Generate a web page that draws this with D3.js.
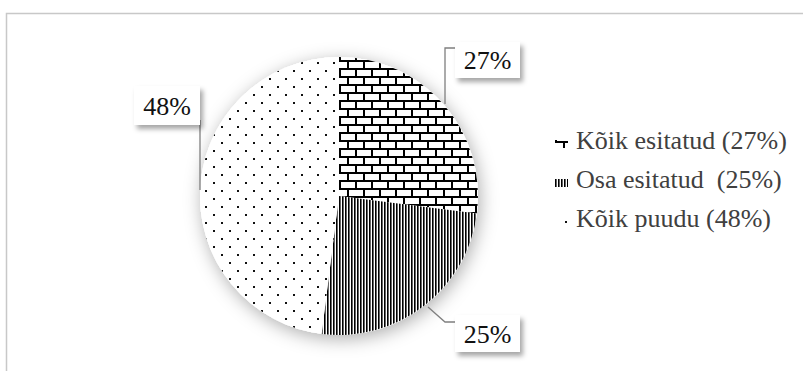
<!DOCTYPE html>
<html>
<head>
<meta charset="utf-8">
<script src="https://cdn.jsdelivr.net/npm/d3@7/dist/d3.min.js"></script>
<style>
  body { margin: 0; background: #fff; }
  svg text { font-family: "Times New Roman", Tinos, "Liberation Serif", "Noto Serif", "DejaVu Serif", FreeSerif, serif; }
</style>
</head>
<body>
<div id="chart"></div>
<script>
var svgWidth = 803;
var svgHeight = 371;

// data
var categories = ["Kõik esitatud", "Osa esitatud ", "Kõik puudu"];
var values = [27, 25, 48];
var sliceLabels = ["27%", "25%", "48%"];
var legendLabels = ["Kõik esitatud (27%)", "Osa esitatud  (25%)", "Kõik puudu (48%)"];
var patterns = ["brick", "vlines", "dots"];

var cx = 339, cy = 196, radius = 139;

var svg = d3.select("#chart")
  .append("svg")
  .attr("width", svgWidth)
  .attr("height", svgHeight);

var defs = svg.append("defs");

// brick pattern
var brick = defs.append("pattern")
  .attr("id", "brick")
  .attr("patternUnits", "userSpaceOnUse")
  .attr("width", 16).attr("height", 16);
brick.append("rect").attr("width", 16).attr("height", 16).attr("fill", "#fff");
brick.append("path")
  .attr("d", "M0,1H16M0,9H16M1,0V9M9,9V16")
  .attr("stroke", "#000").attr("stroke-width", 2).attr("fill", "none");

// vertical lines
var vl = defs.append("pattern")
  .attr("id", "vlines")
  .attr("patternUnits", "userSpaceOnUse")
  .attr("width", 3).attr("height", 3);
vl.append("rect").attr("width", 3).attr("height", 3).attr("fill", "#fff");
vl.append("rect").attr("width", 1.6).attr("height", 3).attr("fill", "#000");

// dots
var dots = defs.append("pattern")
  .attr("id", "dots")
  .attr("patternUnits", "userSpaceOnUse")
  .attr("x", 2).attr("y", 2)
  .attr("width", 16).attr("height", 16);
dots.append("rect").attr("width", 16).attr("height", 16).attr("fill", "#fff");
dots.append("rect").attr("x", 0).attr("y", 0).attr("width", 2).attr("height", 2).attr("fill", "#111");
dots.append("rect").attr("x", 8).attr("y", 8).attr("width", 2).attr("height", 2).attr("fill", "#111");

var shadow = defs.append("filter").attr("id", "shadow")
  .attr("x", "-30%").attr("y", "-30%").attr("width", "160%").attr("height", "160%");
shadow.append("feDropShadow")
  .attr("dx", 2).attr("dy", 4).attr("stdDeviation", 9)
  .attr("flood-color", "#000").attr("flood-opacity", 0.32);

var boxShadow = defs.append("filter").attr("id", "boxShadow")
  .attr("x", "-30%").attr("y", "-30%").attr("width", "160%").attr("height", "160%");
boxShadow.append("feDropShadow")
  .attr("dx", 3).attr("dy", 4).attr("stdDeviation", 2.5)
  .attr("flood-color", "#000").attr("flood-opacity", 0.35);

// chart frame
svg.append("path")
  .attr("d", "M6.5," + svgHeight + "V13.5H" + svgWidth)
  .attr("fill", "none")
  .attr("stroke", "#c8c8c8")
  .attr("stroke-width", 1.5);

var pie = d3.pie().sort(null).value(d => d);
var arcs = pie(values);
var arc = d3.arc().innerRadius(0).outerRadius(radius);

var pieGroup = svg.append("g")
  .attr("transform", `translate(${cx}, ${cy})`);

pieGroup.append("circle")
  .attr("r", radius)
  .attr("fill", "#fff")
  .attr("filter", "url(#shadow)");

pieGroup.selectAll("path.slice")
  .data(arcs)
  .enter()
  .append("path")
  .attr("class", "slice")
  .attr("d", arc)
  .attr("fill", (d, i) => `url(#${patterns[i]})`);

// labels with leader lines
var labelBoxes = [
  { x: 455, y: 42, w: 65, h: 36 },
  { x: 455, y: 315, w: 65, h: 37 },
  { x: 134, y: 86, w: 66, h: 39 }
];
var leaders = [
  "M455,48H445V104",
  "M428,307L445,322H455",
  "M200,120V190"
];

svg.selectAll("path.leader")
  .data(leaders)
  .enter()
  .append("path")
  .attr("class", "leader")
  .attr("d", d => d)
  .attr("fill", "none")
  .attr("stroke", "#7f7f7f")
  .attr("stroke-width", 1.3);

var lbl = svg.selectAll("g.lbl")
  .data(labelBoxes)
  .enter()
  .append("g")
  .attr("class", "lbl");

lbl.append("rect")
  .attr("x", d => d.x).attr("y", d => d.y)
  .attr("width", d => d.w).attr("height", d => d.h)
  .attr("fill", "#fff")
  .attr("filter", "url(#boxShadow)");

lbl.append("text")
  .attr("x", d => d.x + d.w / 2)
  .attr("y", d => d.y + d.h / 2 + 9)
  .attr("text-anchor", "middle")
  .attr("font-size", 26)
  .attr("fill", "#111")
  .text((d, i) => sliceLabels[i]);

// legend
var legend = svg.selectAll("g.legend")
  .data(categories)
  .enter()
  .append("g")
  .attr("class", "legend")
  .attr("transform", (d, i) => `translate(555, ${149 + i * 39})`);

legend.append("rect")
  .attr("x", 0).attr("y", -9)
  .attr("width", 13).attr("height", 8)
  .attr("fill", (d, i) => `url(#${patterns[i]})`);

legend.append("text")
  .attr("x", 21)
  .attr("y", 0)
  .attr("font-size", 26)
  .attr("fill", "#404040")
  .style("white-space", "pre")
  .text((d, i) => legendLabels[i]);
</script>
</body>
</html>
